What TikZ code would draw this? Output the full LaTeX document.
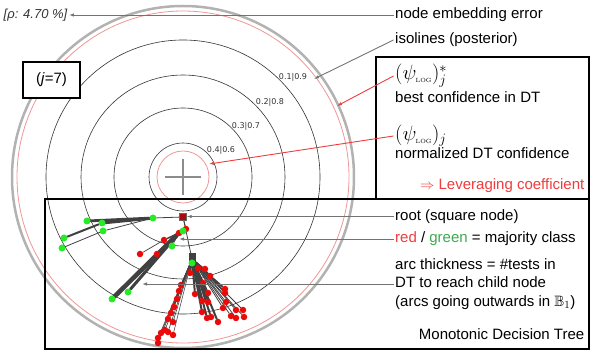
\documentclass[tikz,border=0pt]{standalone}
\usepackage{amssymb}
\usepackage[no-math]{fontspec}
\setmainfont{Liberation Sans}
\newfontfamily\isofont{DejaVu Sans}
\usetikzlibrary{arrows.meta}
\pgfdeclarelayer{background}
\pgfsetlayers{background,main}
\definecolor{lightred}{RGB}{240,150,150}
\definecolor{txtred}{RGB}{240,60,60}
\definecolor{txtgreen}{RGB}{60,170,80}
\definecolor{dotgreen}{RGB}{40,235,40}
\definecolor{dotred}{RGB}{235,10,10}
\definecolor{rootred}{RGB}{170,10,10}
\newcommand{\psilog}{\psi_{\hbox{\fontsize{6}{6}\selectfont$\mathrm{LOG}$}}}

\begin{document}
\begin{tikzpicture}[x=1pt,y=-1pt,
  every node/.style={font=\fontsize{15}{18.5}\selectfont},
  txt/.style={anchor=west,inner sep=1.5pt},
  mathtxt/.style={txt,font=\fontsize{20}{22}\selectfont},
  iso/.style={font=\isofont\fontsize{8}{9}\selectfont,text=black!80,inner sep=0pt},
  gdot/.style={circle,fill=dotgreen,inner sep=0pt,minimum size=7pt},
  rdot/.style={circle,fill=dotred,inner sep=0pt,minimum size=6.5pt},
  treeline/.style={draw=black!75,line cap=round},
  garrow/.style={draw=black!55,line width=0.9pt,-{Latex[length=5pt,width=3.5pt]}},
  rarrow/.style={draw=txtred,line width=0.9pt,-{Latex[length=5pt,width=3.5pt]}},
  boxline/.style={draw=black,line width=1.6pt}]
  \useasboundingbox (0,0) rectangle (598,355);

  \coordinate (c) at (183,177);
  \begin{pgfonlayer}{background}
    \draw[black!30,line width=2.5pt] (c) circle (171pt);
    \draw[lightred,line width=0.8pt] (c) circle (166pt);
    \foreach \r in {137,102,69,34}
      \draw[black!80,line width=0.6pt] (c) circle (\r pt);
    \draw[lightred,line width=0.8pt] (c) circle (26pt);
    \draw[black!45,line width=1.5pt] (c) ++(-18,0) -- ++(36,0) (c) ++(0,-18) -- ++(0,36);
  \end{pgfonlayer}

  \node[iso] (l1) at (293,77) {0.1|0.9};
  \node[iso] (l2) at (270,102) {0.2|0.8};
  \node[iso] (l3) at (246,126) {0.3|0.7};
  \node[iso] (l4) at (221,150) {0.4|0.6};

  % tree
  \node[draw=black!60,fill=rootred,inner sep=0pt,minimum size=7pt] (root) at (183,217) {};
  \node[fill=black!75,inner sep=0pt,minimum width=7pt,minimum height=11pt] (hub) at (192,259) {};
  \foreach \n/\x/\y in {r1/179/233, r2/186/229, r3/164/240, r4/140/254, r5/157/254}
    \node[rdot] (\n) at (\x,\y) {};
  \foreach \n/\x/\y in {g1/153/218, g2/87/221, g3/102/223, g4/103/231, g5/64/238, g6/62/248,
                        g7/183/231, g8/172/246, g9/112/299, g10/128/292, g11/192/263}
    \node[gdot] (\n) at (\x,\y) {};
  \foreach \i/\x/\y in {1/190/273, 2/195/294, 3/202/301, 4/202/312, 5/207/318, 6/211/317,
                        7/218/322, 8/208/293, 9/208/302, 10/203/283}
    \node[rdot] (a\i) at (\x,\y) {};
  \foreach \i/\x/\y in {1/198/268, 2/205/269, 3/210/276, 4/225/289, 5/225/293, 6/226/302,
                        7/223/308, 8/231/316, 9/236/318, 10/236/310, 11/243/310, 12/244/317}
    \node[rdot] (b\i) at (\x,\y) {};
  \foreach \i/\x/\y in {1/181/285, 2/179/291, 3/177/299, 4/174/307, 5/171/313, 6/168/319,
                        7/173/322, 8/165/330, 9/161/333, 10/158/338, 11/158/343, 12/168/332, 13/173/335}
    \node[rdot] (c\i) at (\x,\y) {};

  \begin{pgfonlayer}{background}
    \foreach \a/\b/\w in {root/g1/0.8, g1/g2/2.8, g1/g3/3, g1/g4/0.8, g3/g5/2, g4/g6/0.8,
                          root/r2/0.8, r2/r1/2, r1/g9/4.5, r1/g10/3, r1/r3/1.5, r3/r4/0.7,
                          r1/g8/0.8, root/hub/0.8, hub/b3/2.5, b3/b4/2, b3/b5/1.5}
      \draw[treeline,line width=\w pt] (\a) -- (\b);
    \foreach \i in {1,...,10}
      \draw[treeline,line width=2pt] (hub) -- (a\i);
    \foreach \i in {1,...,12}
      \draw[treeline,line width=0.8pt] (hub) -- (b\i);
    \foreach \i in {1,...,13}
      \draw[treeline,line width=0.6pt] (hub) -- (c\i);
  \end{pgfonlayer}

  % boxes
  \node[boxline,fill=white,minimum width=57pt,minimum height=36pt] (jbox) at (51.5,80) {(\textit{j}=7)};
  \draw[boxline,fill=white] (376,57) rectangle (589,199);
  \draw[boxline] (45,199) rectangle (589,349);

  % labels
  \node[txt,font=\fontsize{13}{15}\selectfont\itshape,text=black!80] (rho) at (2,15) {[ρ: 4.70 \%]};
  \node[txt] (tEmb) at (393.5,15) {node embedding error};
  \node[txt] (tIso) at (393.5,40) {isolines (posterior)};
  \node[mathtxt] (tPsiS) at (393.5,76) {$(\psilog)^{*}_{j}$};
  \node[txt] (tBest) at (393.5,97) {best confidence in DT};
  \node[mathtxt] (tPsi) at (393.5,136) {$(\psilog)_{j}$};
  \node[txt] (tNorm) at (393.5,153) {normalized DT confidence};
  \node[anchor=east,inner sep=1.5pt,text=txtred] (tLev) at (586,185.5) {$\Rightarrow$ Leveraging coefficient};
  \node[txt] (tRoot) at (393.5,216.5) {root (square node)};
  \node[txt] (tClass) at (393.5,239) {\textcolor{txtred}{red} / \textcolor{txtgreen}{green} = majority class};
  \node[txt,align=left] (tArc) at (393.5,284) {arc thickness = \#tests in\\DT to reach child node\\(arcs going outwards in $\mathbb{B}_1$)};
  \node[anchor=east,inner sep=1.5pt] (tDT) at (586,334.5) {Monotonic Decision Tree};

  % connectors
  \coordinate (isoTip) at (314,79);
  \coordinate (outerTip) at (337,106);
  \coordinate (innerTip) at (209,164);
  \coordinate (classTip) at (179,240);
  \coordinate (arcTip) at (142,283);
  \draw[garrow] (tEmb.west) -- (tEmb.west -| rho.east);
  \draw[garrow] (tIso.west) -- (isoTip);
  \draw[rarrow] (tPsiS.west) -- (outerTip);
  \draw[rarrow] (tPsi.west) -- (innerTip);
  \draw[garrow] (tRoot.west) -- (tRoot.west -| root.east);
  \draw[garrow] (tClass.west) -- (tClass.west -| classTip);
  \draw[garrow] (tArc.west) -- (tArc.west -| arcTip);
\end{tikzpicture}
\end{document}
